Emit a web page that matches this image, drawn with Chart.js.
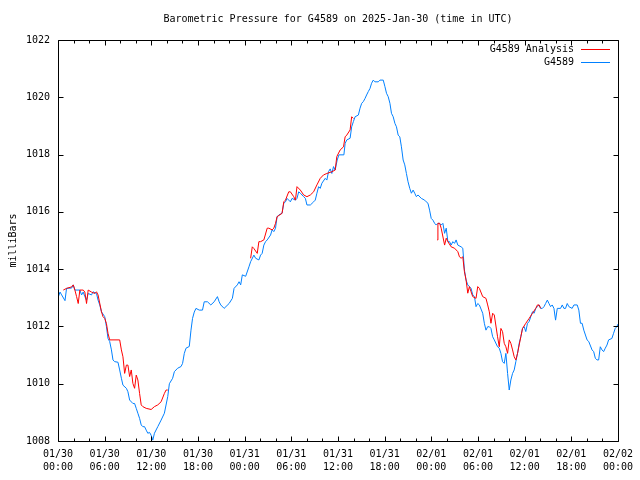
<!DOCTYPE html>
<html>
<head>
<meta charset="utf-8">
<script src="https://cdn.jsdelivr.net/npm/chart.js@4"></script>
<style>
  html, body { margin: 0; padding: 0; background: #fff; }
  #wrap { width: 640px; height: 480px; }
</style>
</head>
<body>
<div id="wrap"><canvas id="baro" width="640" height="480"></canvas></div>
<script>
const TITLE = "Barometric Pressure for G4589 on 2025-Jan-30 (time in UTC)";
const Y_TITLE = "milliBars";
const DAY_LABELS = ["01/30", "01/31", "02/01", "02/02"];
const SERIES_NAMES = ["G4589 Analysis", "G4589"];

// [hours since 01/30 00:00 UTC, mb]
const stationPoints = [
  [0,1013.0],[0.26,1013.2],[0.47,1013.1],[0.9,1012.9],[1.1,1013.33],[1.75,1013.34],[1.96,1013.45],[2.17,1013.27],
  [2.81,1013.27],[3.03,1013.1],[3.24,1013.2],[3.45,1013.04],[3.67,1012.92],[3.88,1013.15],[4.31,1013.1],[4.5,1013.21],
  [4.95,1013.15],[5.15,1012.92],[5.37,1012.75],[5.59,1012.51],[6.01,1012.34],[6.23,1011.99],[6.43,1011.58],[6.65,1011.47],
  [6.87,1011.18],[7.07,1010.83],[7.29,1010.77],[7.71,1010.75],[7.93,1010.48],[8.15,1010.19],[8.35,1009.95],[8.79,1009.84],
  [8.99,1009.72],[9.21,1009.43],[9.63,1009.31],[9.85,1009.31],[10.06,1009.14],[10.27,1008.97],[10.49,1008.79],[10.7,1008.56],
  [10.91,1008.5],[11.13,1008.5],[11.34,1008.38],[11.55,1008.27],[11.77,1008.3],[11.98,1008.2],[12.19,1008.03],[12.4,1008.27],
  [12.83,1008.5],[13.26,1008.73],[13.68,1008.97],[14.11,1009.55],[14.32,1010.0],[14.74,1010.19],[14.96,1010.42],[15.38,1010.54],
  [15.82,1010.6],[16.02,1010.71],[16.24,1011.06],[16.46,1011.24],[16.88,1011.3],[17.1,1011.87],[17.3,1012.28],[17.52,1012.5],
  [17.74,1012.63],[18.16,1012.57],[18.58,1012.57],[18.8,1012.86],[19.22,1012.86],[19.65,1012.75],[20.08,1012.86],[20.5,1013.04],
  [20.72,1012.86],[20.93,1012.75],[21.36,1012.63],[22.0,1012.8],[22.42,1012.98],[22.64,1013.33],[23.06,1013.45],[23.28,1013.56],
  [23.49,1013.45],[23.7,1013.8],[24.13,1013.75],[24.55,1014.08],[24.77,1014.26],[25.19,1014.49],[25.41,1014.38],[25.83,1014.32],
  [26.05,1014.49],[26.25,1014.55],[26.47,1014.84],[26.69,1014.96],[26.9,1015.02],[27.33,1015.19],[27.53,1015.37],[27.75,1015.31],
  [27.97,1015.43],[28.17,1015.83],[28.39,1015.89],[28.81,1015.95],[29.03,1016.3],[29.25,1016.35],[29.45,1016.47],[29.88,1016.35],
  [30.09,1016.47],[30.53,1016.41],[30.73,1016.47],[30.95,1016.7],[31.16,1016.65],[31.59,1016.53],[31.81,1016.47],[32.01,1016.24],
  [32.45,1016.24],[32.87,1016.35],[33.08,1016.41],[33.29,1016.65],[33.51,1016.88],[33.72,1016.82],[33.93,1017.0],[34.36,1017.17],
  [34.57,1017.11],[34.78,1017.4],[35.0,1017.5],[35.21,1017.34],[35.43,1017.58],[35.64,1017.46],[35.9,1017.81],[36.12,1017.99],
  [36.76,1017.99],[36.92,1018.39],[37.13,1018.51],[37.56,1018.57],[37.76,1018.97],[37.98,1019.15],[38.2,1019.32],[38.62,1019.38],
  [38.84,1019.62],[39.05,1019.79],[39.26,1019.85],[39.48,1019.96],[39.68,1020.08],[39.9,1020.2],[40.12,1020.31],[40.32,1020.49],
  [40.54,1020.6],[40.75,1020.54],[41.18,1020.54],[41.4,1020.6],[41.82,1020.6],[42.04,1020.37],[42.24,1020.14],[42.46,1020.02],
  [42.68,1019.79],[42.88,1019.44],[43.1,1019.32],[43.32,1019.09],[43.52,1018.97],[43.74,1018.68],[43.95,1018.62],[44.16,1018.27],
  [44.38,1017.81],[44.59,1017.64],[44.8,1017.34],[45.01,1017.05],[45.23,1016.82],[45.44,1016.65],[45.66,1016.76],[45.87,1016.65],
  [46.08,1016.53],[46.29,1016.59],[46.72,1016.47],[47.14,1016.41],[47.35,1016.35],[47.57,1016.3],[47.78,1016.06],[47.99,1015.77],
  [48.21,1015.71],[48.43,1015.6],[48.63,1015.54],[48.85,1015.6],[49.07,1015.6],[49.27,1015.54],[49.49,1015.6],[49.71,1015.25],
  [49.92,1015.43],[50.13,1014.96],[50.35,1014.96],[50.55,1014.84],[50.77,1014.96],[50.99,1014.9],[51.19,1015.02],[51.41,1014.84],
  [51.83,1014.78],[52.05,1014.73],[52.26,1013.97],[52.47,1013.62],[52.69,1013.45],[52.9,1013.39],[53.11,1013.33],[53.33,1013.1],
  [53.55,1013.04],[53.75,1012.69],[53.97,1012.8],[54.18,1012.75],[54.61,1012.46],[54.82,1012.11],[55.03,1011.87],[55.25,1011.99],
  [55.46,1011.99],[55.67,1011.93],[55.89,1011.64],[56.1,1011.53],[56.52,1011.29],[56.74,1011.24],[56.95,1011.06],[57.16,1010.77],
  [57.38,1010.71],[57.59,1011.06],[57.81,1010.36],[58.02,1009.78],[58.23,1010.13],[58.45,1010.36],[58.66,1010.48],[58.87,1010.77],
  [59.09,1011.06],[59.3,1011.41],[59.51,1011.64],[59.73,1011.93],[59.94,1011.99],[60.15,1011.82],[60.37,1012.11],[60.58,1012.17],
  [60.79,1012.34],[61.01,1012.51],[61.22,1012.46],[61.43,1012.63],[61.65,1012.69],[61.86,1012.75],[62.06,1012.63],[62.28,1012.63],
  [62.49,1012.69],[62.7,1012.8],[62.92,1012.92],[63.13,1012.8],[63.34,1012.69],[63.55,1012.75],[63.77,1012.63],[63.98,1012.22],
  [64.2,1012.63],[64.62,1012.63],[64.84,1012.75],[65.05,1012.63],[65.26,1012.63],[65.48,1012.8],[65.69,1012.69],[66.11,1012.63],
  [66.34,1012.75],[66.76,1012.75],[66.97,1012.57],[67.18,1012.11],[67.39,1012.11],[67.61,1011.87],[67.82,1011.7],[68.03,1011.53],
  [68.25,1011.47],[68.67,1011.18],[68.88,1011.12],[69.09,1010.89],[69.31,1010.83],[69.52,1010.83],[69.73,1011.29],[69.95,1011.18],
  [70.16,1011.12],[70.37,1011.24],[70.59,1011.35],[70.8,1011.53],[71.22,1011.58],[71.44,1011.76],[71.65,1011.93],[71.86,1011.99],
  [72.0,1012.08]
];

// analysis only exists in three windows, null breaks the line
const analysisPoints = [
  [0.68,1013.27],[1.11,1013.33],[1.75,1013.38],[1.96,1013.45],[2.17,1013.27],[2.39,1013.04],[2.6,1012.8],[2.81,1013.27],
  [3.24,1013.27],[3.45,1013.2],[3.67,1012.8],[3.88,1013.27],[4.31,1013.2],[4.73,1013.15],[4.95,1013.21],[5.15,1013.1],
  [5.59,1012.51],[5.79,1012.34],[6.01,1012.28],[6.23,1012.1],[6.43,1011.76],[6.65,1011.53],[7.93,1011.53],[8.15,1011.18],
  [8.35,1010.94],[8.57,1010.36],[8.79,1010.65],[8.99,1010.65],[9.21,1010.25],[9.42,1010.48],[9.63,1010.01],[9.85,1009.84],
  [10.06,1010.3],[10.27,1010.13],[10.49,1009.66],[10.7,1009.26],[10.91,1009.2],[11.34,1009.14],[11.98,1009.1],[12.4,1009.2],
  [12.83,1009.26],[13.26,1009.37],[13.68,1009.66],[13.9,1009.78],[14.11,1009.78],
  [19,null],
  [24.77,1014.38],[24.98,1014.78],[25.19,1014.72],[25.62,1014.55],[25.83,1014.96],[26.05,1014.96],[26.47,1015.02],[26.9,1015.43],
  [27.11,1015.43],[27.53,1015.37],[27.75,1015.43],[27.97,1015.6],[28.17,1015.83],[28.81,1015.95],[29.03,1016.35],[29.25,1016.41],
  [29.67,1016.7],[29.88,1016.7],[30.31,1016.53],[30.53,1016.41],[30.73,1016.88],[31.16,1016.76],[31.59,1016.59],[32.01,1016.53],
  [32.45,1016.59],[32.87,1016.7],[33.29,1016.94],[33.72,1017.17],[34.14,1017.29],[34.57,1017.34],[35.21,1017.4],[35.64,1017.46],
  [35.85,1017.93],[36.28,1018.16],[36.71,1018.27],[36.92,1018.62],[37.13,1018.68],[37.56,1018.86],[37.76,1019.32],[37.98,1019.26],
  [43,null],
  [48.76,1015.02],[48.85,1015.6],[49.07,1015.6],[49.27,1015.43],[49.71,1014.84],[49.92,1015.08],[50.13,1014.96],[50.55,1014.78],
  [50.99,1014.73],[51.41,1014.61],[51.62,1014.43],[51.83,1014.38],[52.05,1014.43],[52.26,1013.91],[52.47,1013.62],[52.69,1013.16],
  [52.9,1013.39],[53.11,1013.21],[53.33,1013.04],[53.75,1012.98],[53.97,1013.39],[54.18,1013.33],[54.61,1013.04],[55.03,1012.98],
  [55.25,1012.75],[55.46,1012.51],[55.67,1012.11],[55.89,1012.46],[56.1,1012.4],[56.52,1011.64],[56.74,1011.29],[56.95,1011.93],
  [57.16,1011.82],[57.38,1011.41],[57.59,1011.29],[57.81,1011.06],[58.02,1011.53],[58.23,1011.41],[58.45,1011.18],[58.66,1010.94],
  [58.87,1010.83],[59.09,1011.06],[59.3,1011.35],[59.51,1011.64],[59.73,1011.93],[60.15,1012.11],[60.58,1012.28],[61.01,1012.46],
  [61.43,1012.63],[61.65,1012.75],[61.86,1012.75],[62.06,1012.63]
];

const COLORS = ["#ff0000", "#0080ff"];
const FONT = "DejaVu Sans Mono";

function pad2(n) { return String(n).padStart(2, "0"); }

function hourLabel(v) {
  if (v % 6 !== 0) return "";
  return [DAY_LABELS[Math.floor(v / 24)], pad2(v % 24) + ":00"];
}

// gnuplot look: box, inward ticks on all four sides, legend text left of sample
const gnuFrame = {
  id: "gnuFrame",
  afterDraw(chart) {
    const { ctx, chartArea: a, scales } = chart;
    const L = Math.round(a.left) + 0.5, R = Math.round(a.right) + 0.5;
    const T = Math.round(a.top) + 0.5, B = Math.round(a.bottom) + 0.5;
    ctx.save();
    ctx.strokeStyle = "#000";
    ctx.lineWidth = 1;
    ctx.beginPath();
    ctx.rect(L, T, R - L, B - T);
    scales.x.ticks.forEach(t => {
      const px = Math.round(scales.x.getPixelForValue(t.value)) + 0.5;
      const len = t.value % 6 === 0 ? 5 : 3;
      ctx.moveTo(px, B); ctx.lineTo(px, B - len);
      ctx.moveTo(px, T); ctx.lineTo(px, T + len);
    });
    scales.y.ticks.forEach(t => {
      const py = Math.round(scales.y.getPixelForValue(t.value)) + 0.5;
      ctx.moveTo(L, py); ctx.lineTo(L + 5, py);
      ctx.moveTo(R, py); ctx.lineTo(R - 5, py);
    });
    ctx.stroke();

    ctx.fillStyle = "#000";
    ctx.font = "10px '" + FONT + "'";
    ctx.textBaseline = "middle";
    ctx.textAlign = "center";
    ctx.fillText(TITLE, (a.left + a.right) / 2, 19);

    ctx.save();
    ctx.translate(13, (a.top + a.bottom) / 2);
    ctx.rotate(-Math.PI / 2);
    ctx.fillText(Y_TITLE, 0, 0);
    ctx.restore();

    // legend
    ctx.textAlign = "right";
    chart.data.datasets.forEach((ds, i) => {
      const y = 49 + i * 13;
      ctx.fillStyle = "#000";
      ctx.fillText(ds.label, 574, y);
      ctx.strokeStyle = ds.borderColor;
      ctx.beginPath();
      ctx.moveTo(581, y + 0.5); ctx.lineTo(610, y + 0.5);
      ctx.stroke();
    });
    ctx.restore();
  }
};

new Chart(document.getElementById("baro"), {
  type: "line",
  data: {
    datasets: [
      {
        label: SERIES_NAMES[0],
        data: analysisPoints.map(p => ({ x: p[0], y: p[1] })),
        borderColor: COLORS[0],
        borderWidth: 1,
        pointRadius: 0,
        tension: 0,
        spanGaps: false
      },
      {
        label: SERIES_NAMES[1],
        data: stationPoints.map(p => ({ x: p[0], y: p[1] })),
        borderColor: COLORS[1],
        borderWidth: 1,
        pointRadius: 0,
        tension: 0
      }
    ]
  },
  options: {
    responsive: false,
    animation: false,
    devicePixelRatio: 1,
    layout: { padding: { top: 40, right: 19, left: 0, bottom: 0 } },
    plugins: { legend: { display: false }, tooltip: { enabled: false }, title: { display: false } },
    scales: {
      x: {
        type: "linear",
        min: 0, max: 72,
        afterFit: s => { s.height = 39; },
        grid: { display: false, drawTicks: false },
        border: { display: false },
        ticks: {
          stepSize: 2,
          autoSkip: false,
          maxRotation: 0,
          maxTicksLimit: 100,
          padding: 7,
          color: "#000",
          font: { family: FONT, size: 10, lineHeight: 1.3 },
          callback: v => hourLabel(v)
        }
      },
      y: {
        min: 1008, max: 1022,
        afterFit: s => { s.width = 58; },
        grid: { display: false, drawTicks: false },
        border: { display: false },
        ticks: {
          stepSize: 2,
          padding: 8,
          color: "#000",
          font: { family: FONT, size: 10 },
          callback: v => String(v)
        }
      }
    }
  },
  plugins: [gnuFrame]
});
</script>
</body>
</html>
